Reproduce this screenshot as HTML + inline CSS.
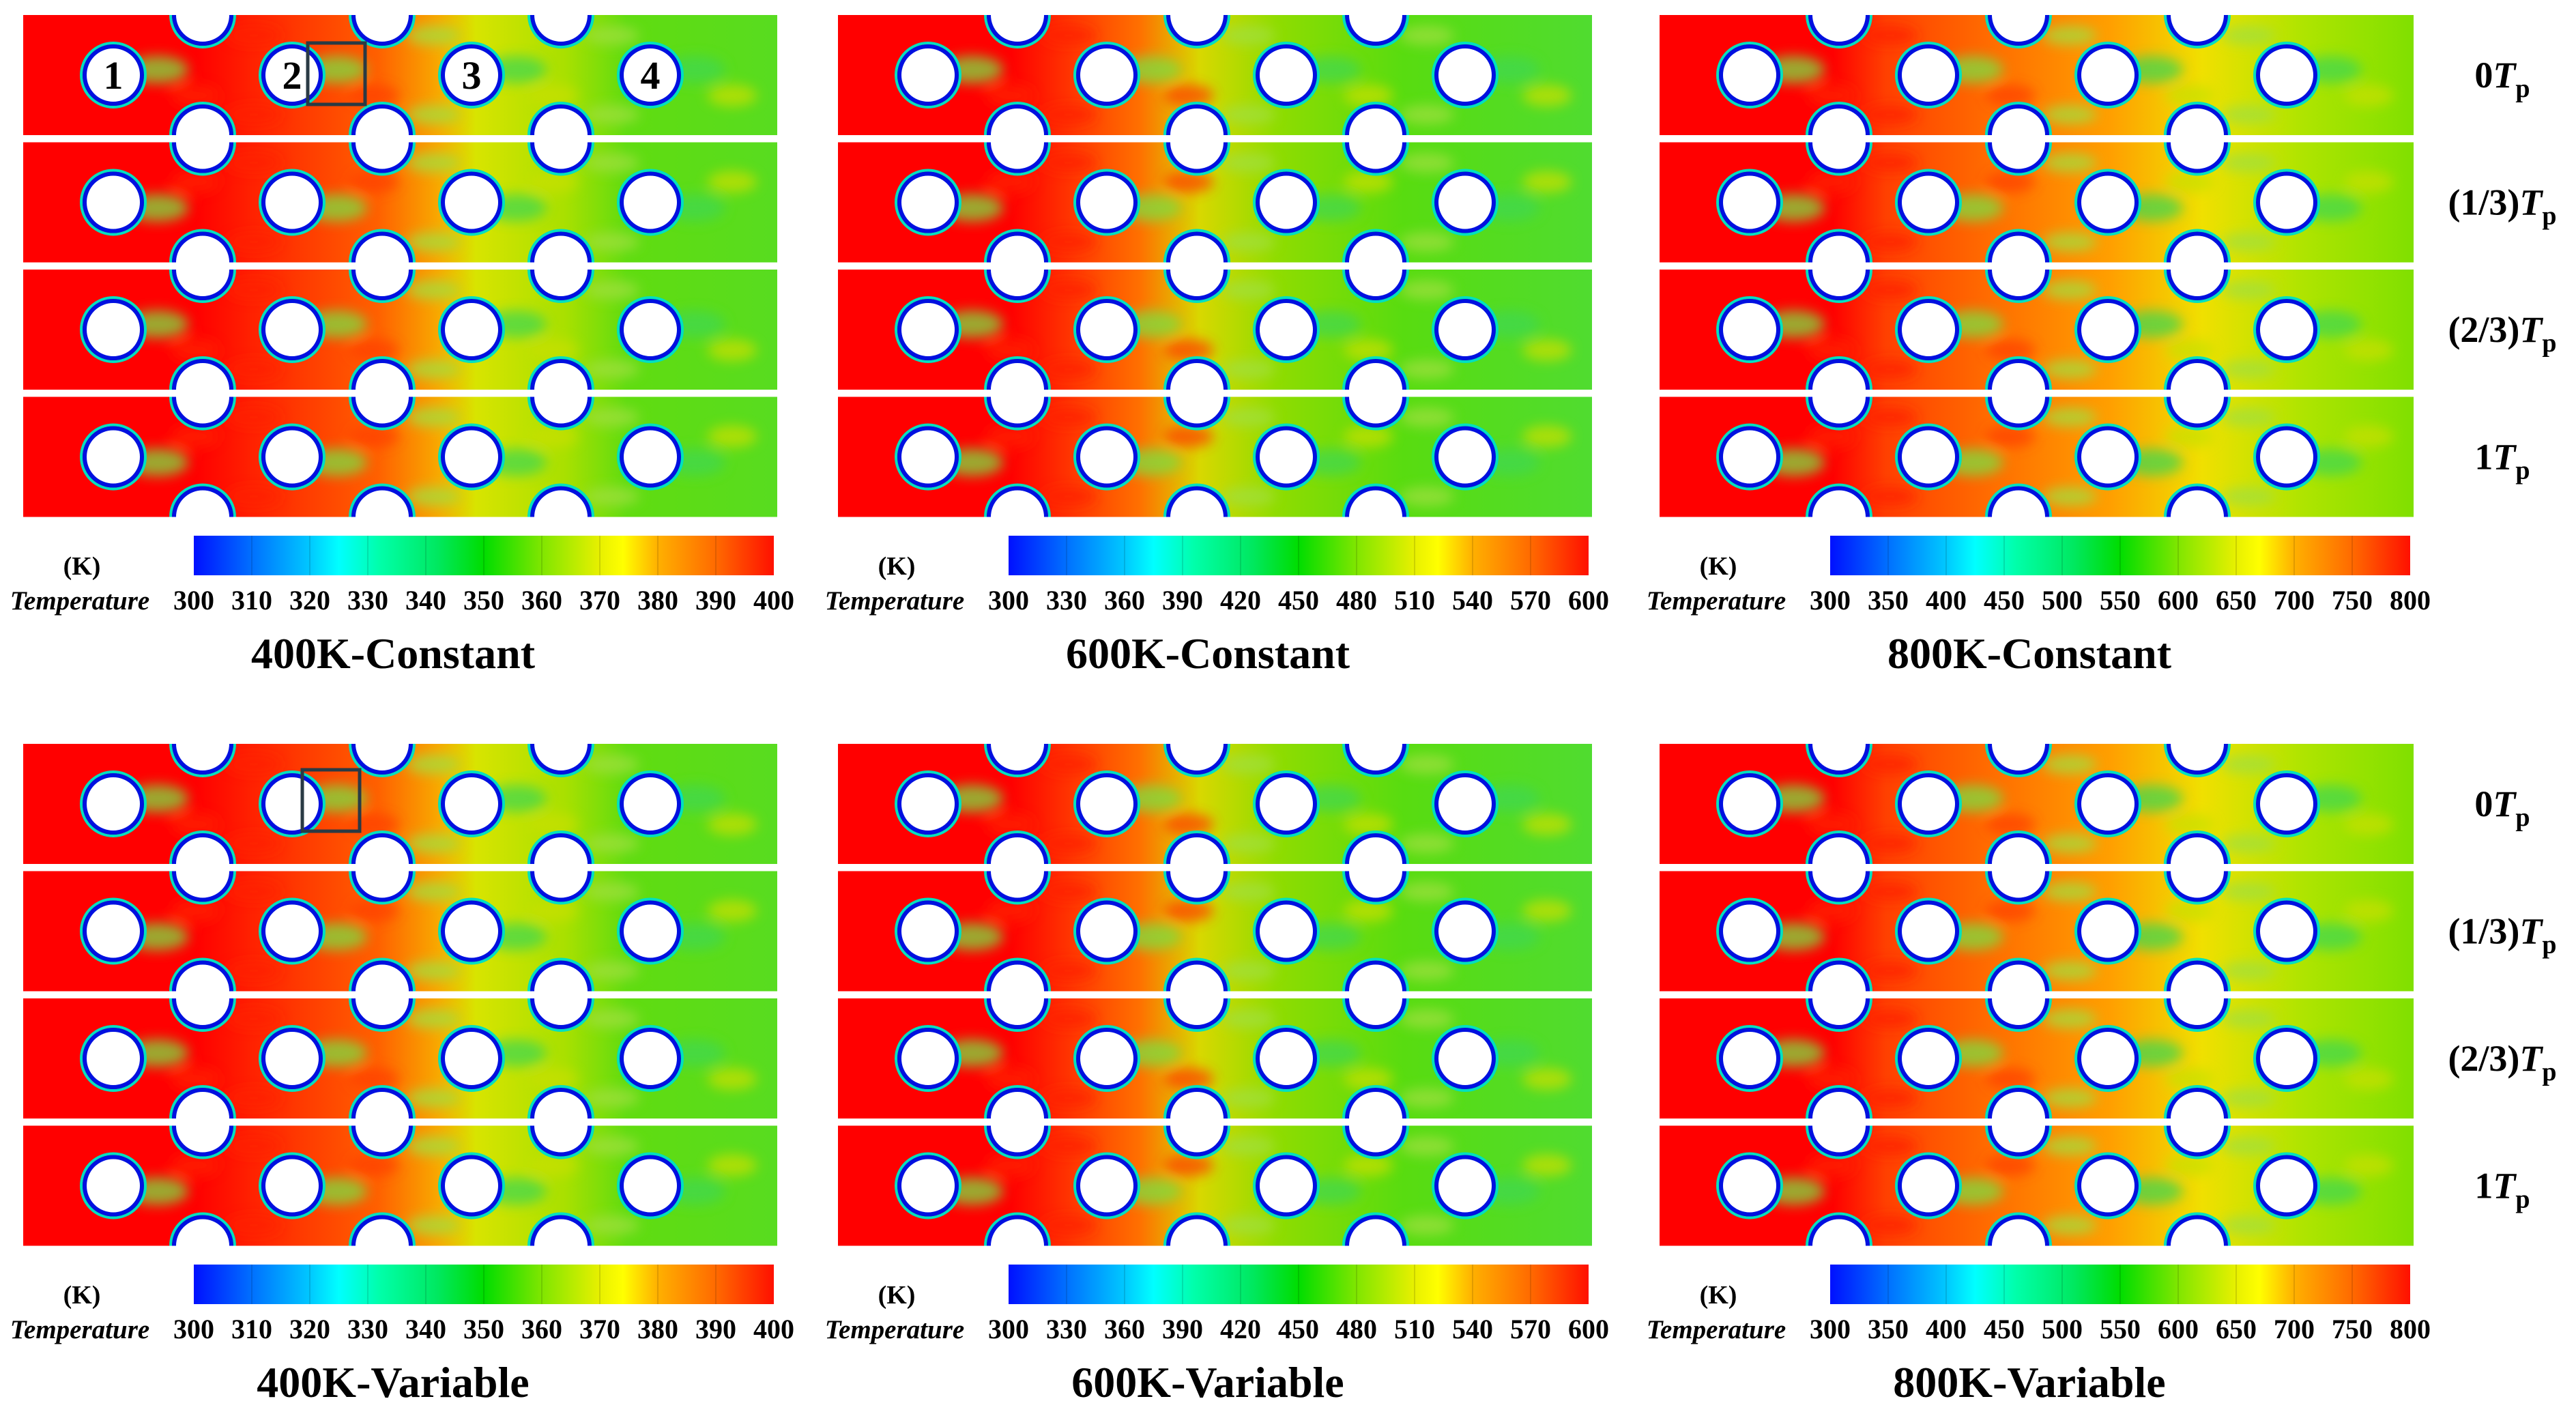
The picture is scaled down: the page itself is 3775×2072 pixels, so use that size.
<!DOCTYPE html>
<html><head><meta charset="utf-8"><style>
html,body{margin:0;padding:0;background:#fff}
svg{display:block}
text{font-family:"Liberation Serif",serif}
</style></head><body>
<svg id="fig" width="3775" height="2072" viewBox="0 0 3775 2072" xmlns="http://www.w3.org/2000/svg">
<defs>
 <linearGradient id="cbar" x1="0" x2="1" y1="0" y2="0">
  <stop offset="0" stop-color="#0010ff"/><stop offset="0.1" stop-color="#0070ff"/>
  <stop offset="0.2" stop-color="#00c8ff"/><stop offset="0.25" stop-color="#00ffff"/>
  <stop offset="0.32" stop-color="#00ffaa"/><stop offset="0.42" stop-color="#00e860"/>
  <stop offset="0.5" stop-color="#00dd00"/><stop offset="0.6" stop-color="#80e600"/>
  <stop offset="0.7" stop-color="#e8f000"/><stop offset="0.74" stop-color="#ffff00"/>
  <stop offset="0.8" stop-color="#ffb000"/><stop offset="0.9" stop-color="#ff6a00"/>
  <stop offset="1" stop-color="#ff1000"/>
 </linearGradient>
 <linearGradient id="f400" x1="0" x2="1"><stop offset="0" stop-color="#ff0000"/><stop offset="0.23" stop-color="#ff0000"/><stop offset="0.3" stop-color="#ff2000"/><stop offset="0.47" stop-color="#ff6000"/><stop offset="0.55" stop-color="#f8a800"/><stop offset="0.6" stop-color="#d8e400"/><stop offset="0.72" stop-color="#a8e000"/><stop offset="0.8" stop-color="#60dc10"/><stop offset="1" stop-color="#58dc20"/></linearGradient>
 <linearGradient id="f600" x1="0" x2="1"><stop offset="0" stop-color="#ff0000"/><stop offset="0.23" stop-color="#ff0000"/><stop offset="0.3" stop-color="#ff3000"/><stop offset="0.4" stop-color="#ff7000"/><stop offset="0.48" stop-color="#d8d800"/><stop offset="0.58" stop-color="#90dc00"/><stop offset="0.75" stop-color="#58dc10"/><stop offset="1" stop-color="#50dc30"/></linearGradient>
 <linearGradient id="f800" x1="0" x2="1"><stop offset="0" stop-color="#ff0000"/><stop offset="0.23" stop-color="#ff0000"/><stop offset="0.3" stop-color="#ff4000"/><stop offset="0.45" stop-color="#ff7000"/><stop offset="0.6" stop-color="#ffa000"/><stop offset="0.72" stop-color="#f0e000"/><stop offset="0.85" stop-color="#b0e400"/><stop offset="1" stop-color="#80e000"/></linearGradient>
 <filter id="blur" x="-50%" y="-50%" width="200%" height="200%"><feGaussianBlur stdDeviation="9"/></filter>
</defs>
<g id="root"></g>
</svg>
<script>
const NS='http://www.w3.org/2000/svg';
const panelTitles=['400K-Constant','600K-Constant','800K-Constant','400K-Variable','600K-Variable','800K-Variable'];
const tickLabels400=['300','310','320','330','340','350','360','370','380','390','400'];
const tickLabels600=['300','330','360','390','420','450','480','510','540','570','600'];
const tickLabels800=['300','350','400','450','500','550','600','650','700','750','800'];
const timeLabels=['0','(1/3)','(2/3)','1'];
const fields=['f400','f600','f800','f400','f600','f800'];
const cylLabels=['1','2','3','4'];

const panelX=[34,1228,2432], rowY=[22,1090], PW=1105, SH=176, SP=186.5, R=42;
const mainCx=[132,394,657,919], offCx=[263,526,788];
const root=document.getElementById('root');
function mk(tag,attrs,parent){const e=document.createElementNS(NS,tag);for(const k in attrs)e.setAttribute(k,attrs[k]);(parent||root).appendChild(e);return e;}

for(let p=0;p<6;p++){
 const col=p%3,row=Math.floor(p/3),px=panelX[col],py=rowY[row];
 const g=mk('g',{});
 
 
 const ticks=[tickLabels400,tickLabels600,tickLabels800][col];
 for(let s=0;s<4;s++){
  const sy=py+s*SP;
  const cid='clip'+p+'_'+s;
  const cp=mk('clipPath',{id:cid},g);mk('rect',{x:px,y:sy,width:PW,height:SH},cp);
  const sg=mk('g',{'clip-path':'url(#'+cid+')'},g);
  
  
  mk('rect',{x:px,y:sy,width:PW,height:SH,fill:'url(#'+fields[p]+')'},sg);
  const cy=sy+SH/2;
  const bl=mk('g',{filter:'url(#blur)',opacity:'0.75'},sg);
  mainCx.forEach((cx,i)=>{
   mk('ellipse',{cx:px+cx+65,cy:cy+((s%2)?8:-8),rx:45,ry:20,fill:i<2?'#7ce040':'#40d850'},bl);
   mk('ellipse',{cx:px+cx+120,cy:cy+((s%2)?-30:30),rx:36,ry:16,fill:i==0?'#ff2000':(i==1?'#ff4000':'#c8e000')},bl);
  });
  offCx.forEach((cx,i)=>{
   mk('ellipse',{cx:px+cx+75,cy:sy+30,rx:40,ry:14,fill:i==0?'#ff2000':'#a0e040'},bl);
   mk('ellipse',{cx:px+cx+75,cy:sy+SH-30,rx:40,ry:14,fill:i==0?'#ff2000':'#a0e040'},bl);
  });
  const cyl=(cx,cyy)=>{
   mk('circle',{cx:cx,cy:cyy,r:R+5,fill:'none',stroke:'#00e0c0','stroke-width':4},sg);
   mk('circle',{cx:cx,cy:cyy,r:R,fill:'#fff',stroke:'#0010e0','stroke-width':6},sg);
  };
  mainCx.forEach(cx=>cyl(px+cx,cy));
  offCx.forEach(cx=>{cyl(px+cx,sy);cyl(px+cx,sy+SH);});
  if(p===0&&s===0){
   cylLabels.forEach((t,i)=>{const tx=mk('text',{x:px+mainCx[i],y:cy+20,'text-anchor':'middle','font-size':58,'font-weight':'bold'},g);tx.textContent=t;
    
    });
  }
  if(col===2){
   const tl=mk('text',{x:3667,y:cy+18,'text-anchor':'middle','font-size':54,'font-weight':'bold'});
   
   
   tl.innerHTML=timeLabels[s]+'<tspan font-style="italic">T</tspan><tspan font-size="38" dy="14">p</tspan>';
  }
 }
 if(col===0){
  const bx=row===0?451:443, by=row===0?63:1128;
  const box=mk('rect',{x:bx,y:by,width:84,height:90,fill:'none',stroke:'#2a3a44','stroke-width':5},g);
  
  
 }
 const cbx=px+250, cby=py+763, cbw=850, cbh=58;
 const cb=mk('rect',{x:cbx,y:cby,width:cbw,height:cbh,fill:'url(#cbar)'},g);
 
 
 for(let i=1;i<10;i++)mk('line',{x1:cbx+cbw*i/10,x2:cbx+cbw*i/10,y1:cby,y2:cby+cbh,stroke:'rgba(0,0,0,0.12)','stroke-width':2},g);
 ticks.forEach((t,i)=>{const tx=mk('text',{x:cbx+cbw*i/10,y:py+871,'text-anchor':'middle','font-size':40,'font-weight':'bold'},g);tx.textContent=t;
  
  });
 const k=mk('text',{x:px+86,y:py+820,'text-anchor':'middle','font-size':38,'font-weight':'bold'},g);k.textContent='(K)';
 
 
 const tt=mk('text',{x:px+83,y:py+871,'text-anchor':'middle','font-size':39,'font-weight':'bold','font-style':'italic'},g);tt.textContent='Temperature';
 
 
 const ti=mk('text',{x:px+542,y:py+957,'text-anchor':'middle','font-size':64,'font-weight':'bold'},g);ti.textContent=panelTitles[p];
 
 
}
</script>
</body></html>
